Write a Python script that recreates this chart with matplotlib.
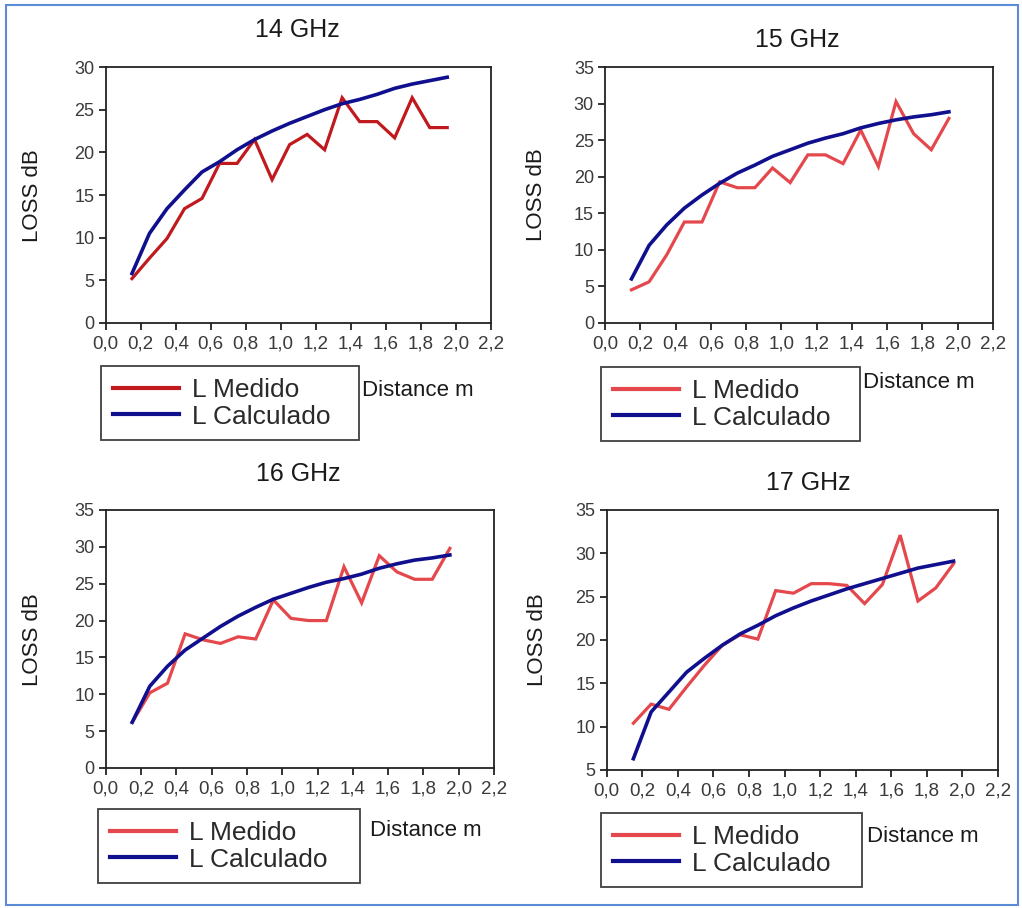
import matplotlib
matplotlib.use("Agg")
import matplotlib.pyplot as plt
from matplotlib.patches import Rectangle
from matplotlib.ticker import FuncFormatter, MultipleLocator

plt.rcParams['font.family'] = ['Liberation Sans', 'DejaVu Sans']

# ---------------- data ----------------
distance = [0.15, 0.25, 0.35, 0.45, 0.55, 0.65, 0.75, 0.85, 0.95, 1.05,
            1.15, 1.25, 1.35, 1.45, 1.55, 1.65, 1.75, 1.85, 1.95]

titles = ["14 GHz", "15 GHz", "16 GHz", "17 GHz"]

medido_14 = [5.2, 7.6, 9.9, 13.4, 14.6, 18.7, 18.7, 21.5, 16.8, 20.9,
             22.1, 20.3, 26.4, 23.6, 23.6, 21.7, 26.4, 22.9, 22.9]
calc_14 = [5.8, 10.5, 13.4, 15.6, 17.7, 18.9, 20.3, 21.5, 22.5, 23.4,
           24.2, 25.0, 25.7, 26.2, 26.8, 27.5, 28.0, 28.4, 28.8]

medido_15 = [4.5, 5.6, 9.3, 13.8, 13.8, 19.3, 18.5, 18.5, 21.2, 19.2,
             23.0, 23.0, 21.8, 26.4, 21.4, 30.3, 25.9, 23.7, 28.0]
calc_15 = [6.0, 10.6, 13.4, 15.7, 17.5, 19.1, 20.5, 21.6, 22.8, 23.7,
           24.6, 25.3, 25.9, 26.7, 27.3, 27.8, 28.2, 28.5, 28.9]

medido_16 = [6.2, 10.2, 11.5, 18.2, 17.4, 16.9, 17.8, 17.5, 22.8, 20.3,
             20.0, 20.0, 27.3, 22.4, 28.8, 26.6, 25.6, 25.6, 29.8]
calc_16 = [6.2, 11.1, 13.8, 16.0, 17.6, 19.2, 20.6, 21.8, 22.9, 23.7,
           24.5, 25.2, 25.7, 26.3, 27.1, 27.7, 28.2, 28.5, 28.9]

medido_17 = [10.4, 12.6, 12.0, 14.6, 17.1, 19.4, 20.6, 20.1, 25.7, 25.4,
             26.5, 26.5, 26.3, 24.2, 26.4, 32.1, 24.5, 26.0, 28.8]
calc_17 = [6.3, 11.7, 14.0, 16.3, 17.9, 19.4, 20.7, 21.7, 22.8, 23.7,
           24.5, 25.2, 25.9, 26.5, 27.1, 27.7, 28.3, 28.7, 29.1]

medido = [medido_14, medido_15, medido_16, medido_17]
calculado = [calc_14, calc_15, calc_16, calc_17]

y_limits = [(0, 30), (0, 35), (0, 35), (5, 35)]
x_limits = (0.0, 2.2)

series_labels = ["L Medido", "L Calculado"]
x_label = "Distance m"
y_label = "LOSS dB"

# ---------------- layout (pixels) ----------------
W, H = 1022, 908
fig = plt.figure(figsize=(W / 100, H / 100), dpi=100)
fig.patch.set_facecolor("white")


def rect(l, r, t, b):
    return [l / W, 1 - b / H, (r - l) / W, (b - t) / H]


ax_boxes = [(105.7, 491, 67, 323), (605, 993, 67.3, 322.7),
            (105.7, 494, 510, 768), (606.7, 998, 510, 770)]
title_pos = [(297, 30), (797, 40), (298, 474), (808, 483)]
legend_box = [(101, 359, 366), (601, 860, 367), (98, 360, 809), (601, 862, 813)]
dist_pos = [(362, 390), (863, 383), (370, 830), (867, 837)]
ylabel_pos = [(33, 196), (536, 195), (33, 640), (537, 640)]
red_colors = ["#c01a1e", "#e5484c", "#e5484c", "#e5484c"]
blue_color = "#10108f"

fmt = FuncFormatter(lambda v, p: ("%.1f" % v).replace(".", ","))

for i in range(4):
    ax = fig.add_axes(rect(*ax_boxes[i]))
    l1, = ax.plot(distance, medido[i], color=red_colors[i], lw=2.3,
                  solid_joinstyle="miter", label=series_labels[0], zorder=2)
    l2, = ax.plot(distance, calculado[i], color=blue_color, lw=2.6,
                  label=series_labels[1], zorder=3)
    ax.set_xlim(*x_limits)
    ax.set_ylim(*y_limits[i])
    ax.xaxis.set_major_locator(MultipleLocator(0.2))
    ax.yaxis.set_major_locator(MultipleLocator(5))
    ax.xaxis.set_major_formatter(fmt)
    for s in ax.spines.values():
        s.set_color("#222222")
        s.set_linewidth(1.3)
    ax.tick_params(axis="both", direction="out", length=5, width=1.3,
                   color="#222222", labelcolor="#3a3a3a", labelsize=13,
                   pad=3)
    ax.tick_params(axis="x", labelsize=13.5, pad=4)

    fig.text(title_pos[i][0] / W, 1 - title_pos[i][1] / H, titles[i],
             ha="center", va="center", fontsize=18, color="#1a1a1a")
    fig.text(ylabel_pos[i][0] / W, 1 - ylabel_pos[i][1] / H, y_label,
             rotation=90, ha="center", va="center", fontsize=16,
             color="#1a1a1a")
    fig.text(dist_pos[i][0] / W, 1 - dist_pos[i][1] / H, x_label,
             ha="left", va="center", fontsize=16, color="#1a1a1a")

    lx0, lx1, ly0 = legend_box[i]
    leg = ax.legend(handles=[l1, l2], loc="upper left", mode="expand",
                    bbox_to_anchor=(lx0 / W, 1 - ly0 / H, (lx1 - lx0) / W, 0),
                    bbox_transform=fig.transFigure, fontsize=19,
                    frameon=True, fancybox=False, borderaxespad=0,
                    handlelength=2.5, handletextpad=0.5, labelspacing=0.1,
                    borderpad=0.45)
    leg.get_frame().set_edgecolor("#111111")
    leg.get_frame().set_linewidth(1.3)
    for t in leg.get_texts():
        t.set_color("#2a2a2a")
    for ln in leg.get_lines():
        ln.set_linewidth(3.0)

# outer light-blue frame
fig.patches.append(Rectangle((6 / W, 1 - 905 / H), (1018 - 6) / W, (905 - 5) / H,
                             transform=fig.transFigure, fill=False,
                             edgecolor="#5b8bd6", linewidth=1.5))

fig.savefig("out.png", dpi=100, facecolor="white")
